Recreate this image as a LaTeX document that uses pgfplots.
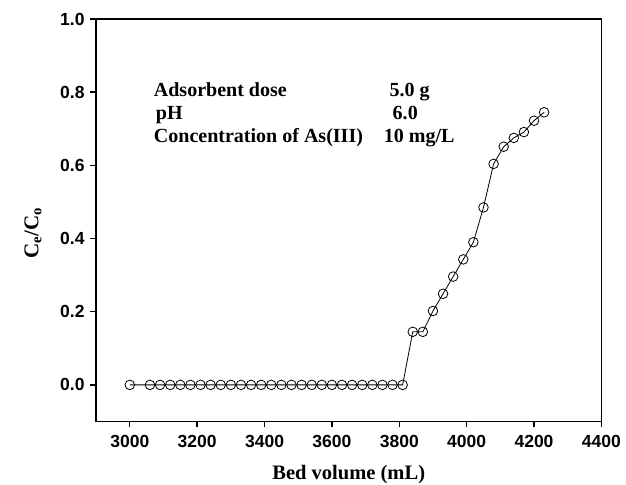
\documentclass[border=0pt]{standalone}
\usepackage{fontspec}
\setmainfont{Liberation Serif}
\setsansfont{Liberation Sans}
\usepackage{pgfplots}
\pgfplotsset{compat=1.18}
\begin{document}
\begin{tikzpicture}[x=1pt,y=1pt]
\path[use as bounding box] (-96,-63) rectangle (529.3,421);
\begin{axis}[
  at={(0,0)}, anchor=south west,
  scale only axis, width=504.7pt, height=402pt,
  xmin=2900, xmax=4400, ymin=-0.1, ymax=1.0,
  xtick={3000,3200,...,4400},
  ytick={0,0.2,...,1.0},
  tick align=outside, tick pos=left,
  major tick length=6pt,
  axis line style={line width=1.4pt},
  every tick/.style={line width=1.4pt, black},
  /pgf/number format/assume math mode=true,
  x tick label style={font=\sffamily\bfseries\fontsize{17.5}{17.5}\selectfont, /pgf/number format/1000 sep={}, yshift=-4pt},
  y tick label style={font=\sffamily\bfseries\fontsize{17.5}{17.5}\selectfont, /pgf/number format/fixed, /pgf/number format/fixed zerofill, /pgf/number format/precision=1, xshift=-2pt},
  clip=false,
]
\addplot[black, line width=0.8pt, mark=o, mark size=4.8pt, mark options={fill=white, line width=0.8pt}] coordinates {
(3000,0) (3060,0) (3090,0) (3120,0) (3150,0) (3180,0) (3210,0) (3240,0) (3270,0)
(3300,0) (3330,0) (3360,0) (3390,0) (3420,0) (3450,0) (3480,0) (3510,0) (3540,0)
(3570,0) (3600,0) (3630,0) (3660,0) (3690,0) (3720,0) (3750,0) (3780,0) (3810,0)
(3840,0.145) (3870,0.145) (3900,0.202) (3930,0.249) (3960,0.296) (3990,0.343)
(4020,0.390) (4050,0.485) (4080,0.604) (4110,0.651) (4140,0.675) (4170,0.691)
(4200,0.722) (4230,0.745)
};
\begin{scope}[every node/.style={font=\bfseries\fontsize{20}{20}\selectfont, anchor=base west, inner sep=0pt}]
\node at (axis cs:3071,0.788) {Adsorbent dose};
\node at (axis cs:3771,0.788) {5.0 g};
\node at (axis cs:3077,0.724) {pH};
\node at (axis cs:3780,0.724) {6.0};
\node at (axis cs:3071,0.663) {Concentration of As(III)};
\node at (axis cs:3754,0.663) {10 mg/L};
\end{scope}
\node[font=\bfseries\fontsize{20.5}{20.5}\selectfont, inner sep=0pt, anchor=base] at (axis description cs:0.5,-0.1443) {Bed volume (mL)};
\node[font=\bfseries\fontsize{21}{21}\selectfont, inner sep=0pt, rotate=90] at (axis description cs:-0.1248,0.468) {C\textsubscript{e}/C\textsubscript{o}};
\end{axis}
\end{tikzpicture}
\end{document}
